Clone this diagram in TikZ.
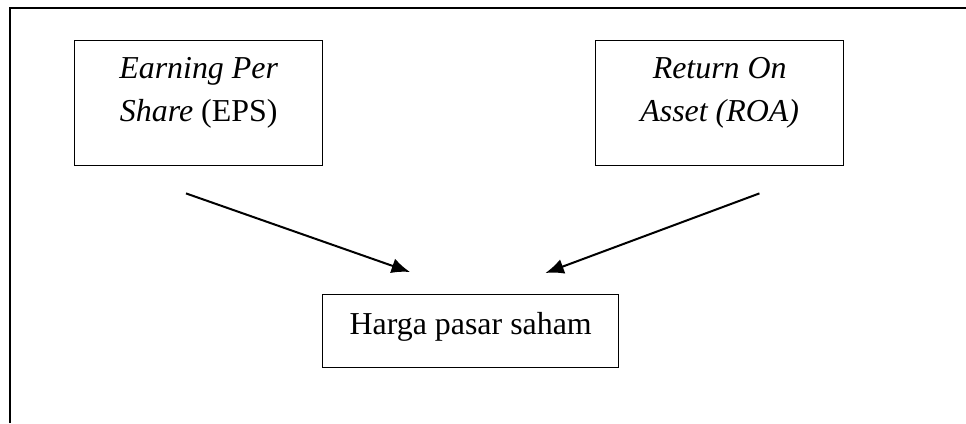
\documentclass[tikz,border=0pt]{standalone}
\usepackage{fontspec}
\setmainfont{Liberation Serif}
\usetikzlibrary{positioning}
\usetikzlibrary{calc}
\usetikzlibrary{arrows.meta}
\tikzset{
	varbox/.style={draw,line width=0.35mm,inner sep=0pt,align=center,anchor=north west,
		font=\fontsize{22.7}{30.5}\selectfont},
	pengaruh/.style={-{Latex[length=4.6mm,width=3.8mm]},line width=0.5mm}
}

\begin{document}
\begin{tikzpicture}[x=0.25mm,y=-0.25mm]
			\useasboundingbox (0,0) rectangle (966,423);
			% draw frame
			\draw[line width=0.6mm] (10,423) -- (10,8) -- (966,8);
			% draw variables
			\node[varbox,minimum width=62mm,text height=20.25mm,text depth=11mm] (eps) at (74,40) {\textit{Earning Per}\\\textit{Share} (EPS)};
			\node[varbox,minimum width=62mm,text height=20.25mm,text depth=11mm] (roa) at (595,40) {\textit{Return On}\\\textit{Asset (ROA)}};
			\node[varbox,minimum width=74mm,text height=10mm,text depth=8.25mm] (harga) at (322,294) {Harga pasar saham};
			% add arrows
			\coordinate (eps-out) at ([xshift=28mm,yshift=-6.75mm]eps.south west);
			\coordinate (roa-out) at ([xshift=-21.25mm,yshift=-6.75mm]roa.south east);
			\coordinate (harga-in1) at ([xshift=22mm,yshift=5.5mm]harga.north west);
			\coordinate (harga-in2) at ([xshift=-18.5mm,yshift=5.25mm]harga.north east);
			\draw[pengaruh] (eps-out) -- (harga-in1);
			\draw[pengaruh] (roa-out) -- (harga-in2);
		\end{tikzpicture}
\end{document}
